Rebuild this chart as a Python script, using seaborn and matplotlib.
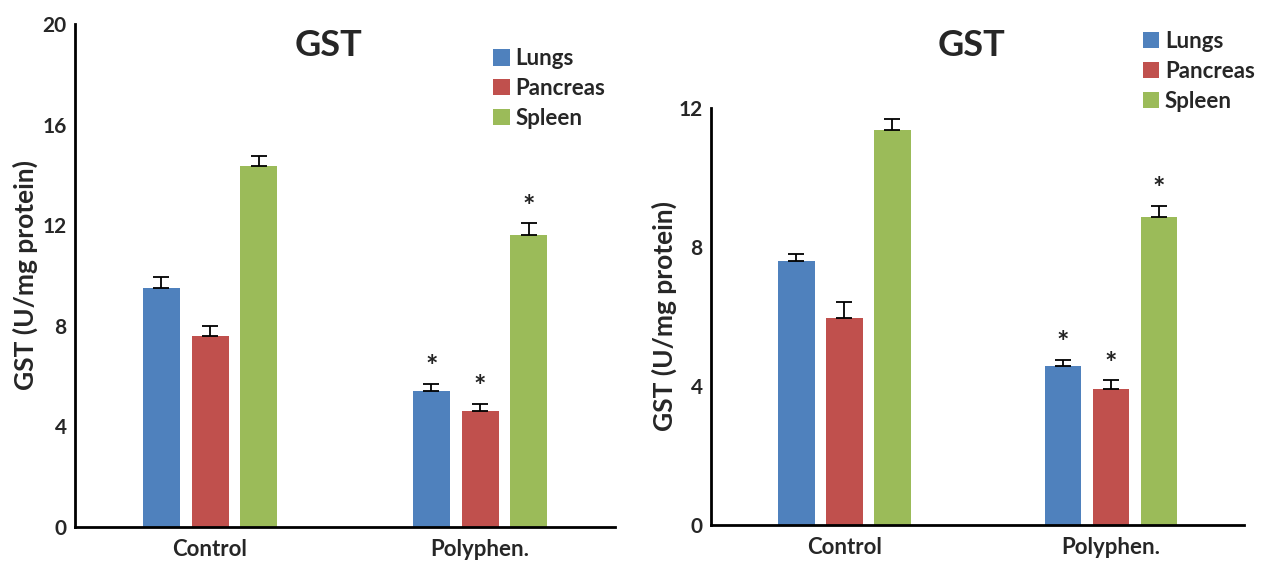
import numpy as np
import pandas as pd
import matplotlib
matplotlib.use("Agg")
import matplotlib.pyplot as plt
import seaborn as sns
from matplotlib.ticker import FixedLocator

groups = ["Control", "Polyphen."]
organs = ["Lungs", "Pancreas", "Spleen"]
colors = ["#4F81BD", "#C0504D", "#9BBB59"]

# left panel (organ x group)
left_means = {"Lungs": [9.5, 5.4], "Pancreas": [7.6, 4.6], "Spleen": [14.35, 11.6]}
left_err = {"Lungs": [0.45, 0.28], "Pancreas": [0.4, 0.3], "Spleen": [0.4, 0.47]}
left_star = {"Lungs": [False, True], "Pancreas": [False, True], "Spleen": [False, True]}

# right panel
right_means = {"Lungs": [7.6, 4.57], "Pancreas": [5.95, 3.92], "Spleen": [11.38, 8.85]}
right_err = {"Lungs": [0.2, 0.19], "Pancreas": [0.47, 0.24], "Spleen": [0.31, 0.33]}
right_star = {"Lungs": [False, True], "Pancreas": [False, True], "Spleen": [False, True]}

left_ticks = [0, 4, 8, 12, 16, 20]
right_ticks = [0, 4, 8, 12]
title = "GST"
ylabel = "GST (U/mg protein)"

sns.set_style("white")
plt.rcParams["font.family"] = ["Lato", "DejaVu Sans"]

fig = plt.figure(figsize=(12.63, 5.65), dpi=100)
ax1 = fig.add_axes([0.0594, 0.0673, 0.4276, 0.8902])
ax2 = fig.add_axes([0.5630, 0.0708, 0.4220, 0.7381])


def make_df(means):
    rows = []
    for o in organs:
        for g, v in zip(groups, means[o]):
            rows.append({"group": g, "organ": o, "value": v})
    return pd.DataFrame(rows)


def draw(ax, means, errs, stars, yticks, ymax, title_xy, leg_xy, lpad):
    df = make_df(means)
    sns.barplot(data=df, x="group", y="value", hue="organ", order=groups,
                hue_order=organs, palette=colors, width=0.54, gap=0.24,
                errorbar=None, saturation=1, ax=ax, linewidth=0)
    for ci, o in enumerate(organs):
        cont = ax.containers[ci]
        for gi, patch in enumerate(cont.patches):
            xc = patch.get_x() + patch.get_width() / 2
            h = patch.get_height()
            e = errs[o][gi]
            ax.errorbar([xc], [h], yerr=[[0], [e]], fmt="none", ecolor="black",
                        elinewidth=1.3, capsize=5.5, capthick=1.3, zorder=3)
            if stars[o][gi]:
                ax.annotate("*", (xc, h + e), xytext=(0, 12), textcoords="offset points",
                            ha="center", va="center", fontsize=21, fontweight="bold",
                            color="#222222")
    ax.set_xlim(-0.5, 1.5)
    ax.set_ylim(0, ymax)
    ax.set_yticks(yticks)
    ax.set_yticklabels([str(t) for t in yticks], fontsize=15, fontweight="bold")
    ax.set_xticks([0, 1])
    ax.set_xticklabels(groups, fontsize=16, fontweight="bold")
    ax.xaxis.set_minor_locator(FixedLocator([0.5, 1.5]))
    ax.tick_params(axis="x", which="major", length=0, pad=9)
    ax.tick_params(axis="x", which="minor", length=8, width=2, direction="in", color="black")
    ax.tick_params(axis="y", length=7, width=2, direction="in", color="black", pad=6)
    ax.set_xlabel("")
    ax.set_ylabel(ylabel, fontsize=19, fontweight="bold", labelpad=lpad)
    for s in ["top", "right"]:
        ax.spines[s].set_visible(False)
    for s in ["left", "bottom"]:
        ax.spines[s].set_linewidth(2)
        ax.spines[s].set_color("black")
    ax.text(title_xy[0], title_xy[1], title, transform=ax.transAxes, ha="center",
            va="center", fontsize=26, fontweight="bold", clip_on=False)
    ax.legend(loc="upper left", bbox_to_anchor=leg_xy, frameon=False,
              handlelength=0.75, handleheight=0.75, handletextpad=0.25, labelspacing=0.4,
              borderaxespad=0, borderpad=0, title=None,
              prop={"size": 16, "weight": "bold"})
    ax.patch.set_alpha(0)


draw(ax1, left_means, left_err, left_star, left_ticks, 20, (0.47, 0.958), (0.774, 0.952), 3)
draw(ax2, right_means, right_err, right_star, right_ticks, 12, (0.488, 1.151), (0.81, 1.185), 1)

fig.savefig("out.png", dpi=100, facecolor="white")
